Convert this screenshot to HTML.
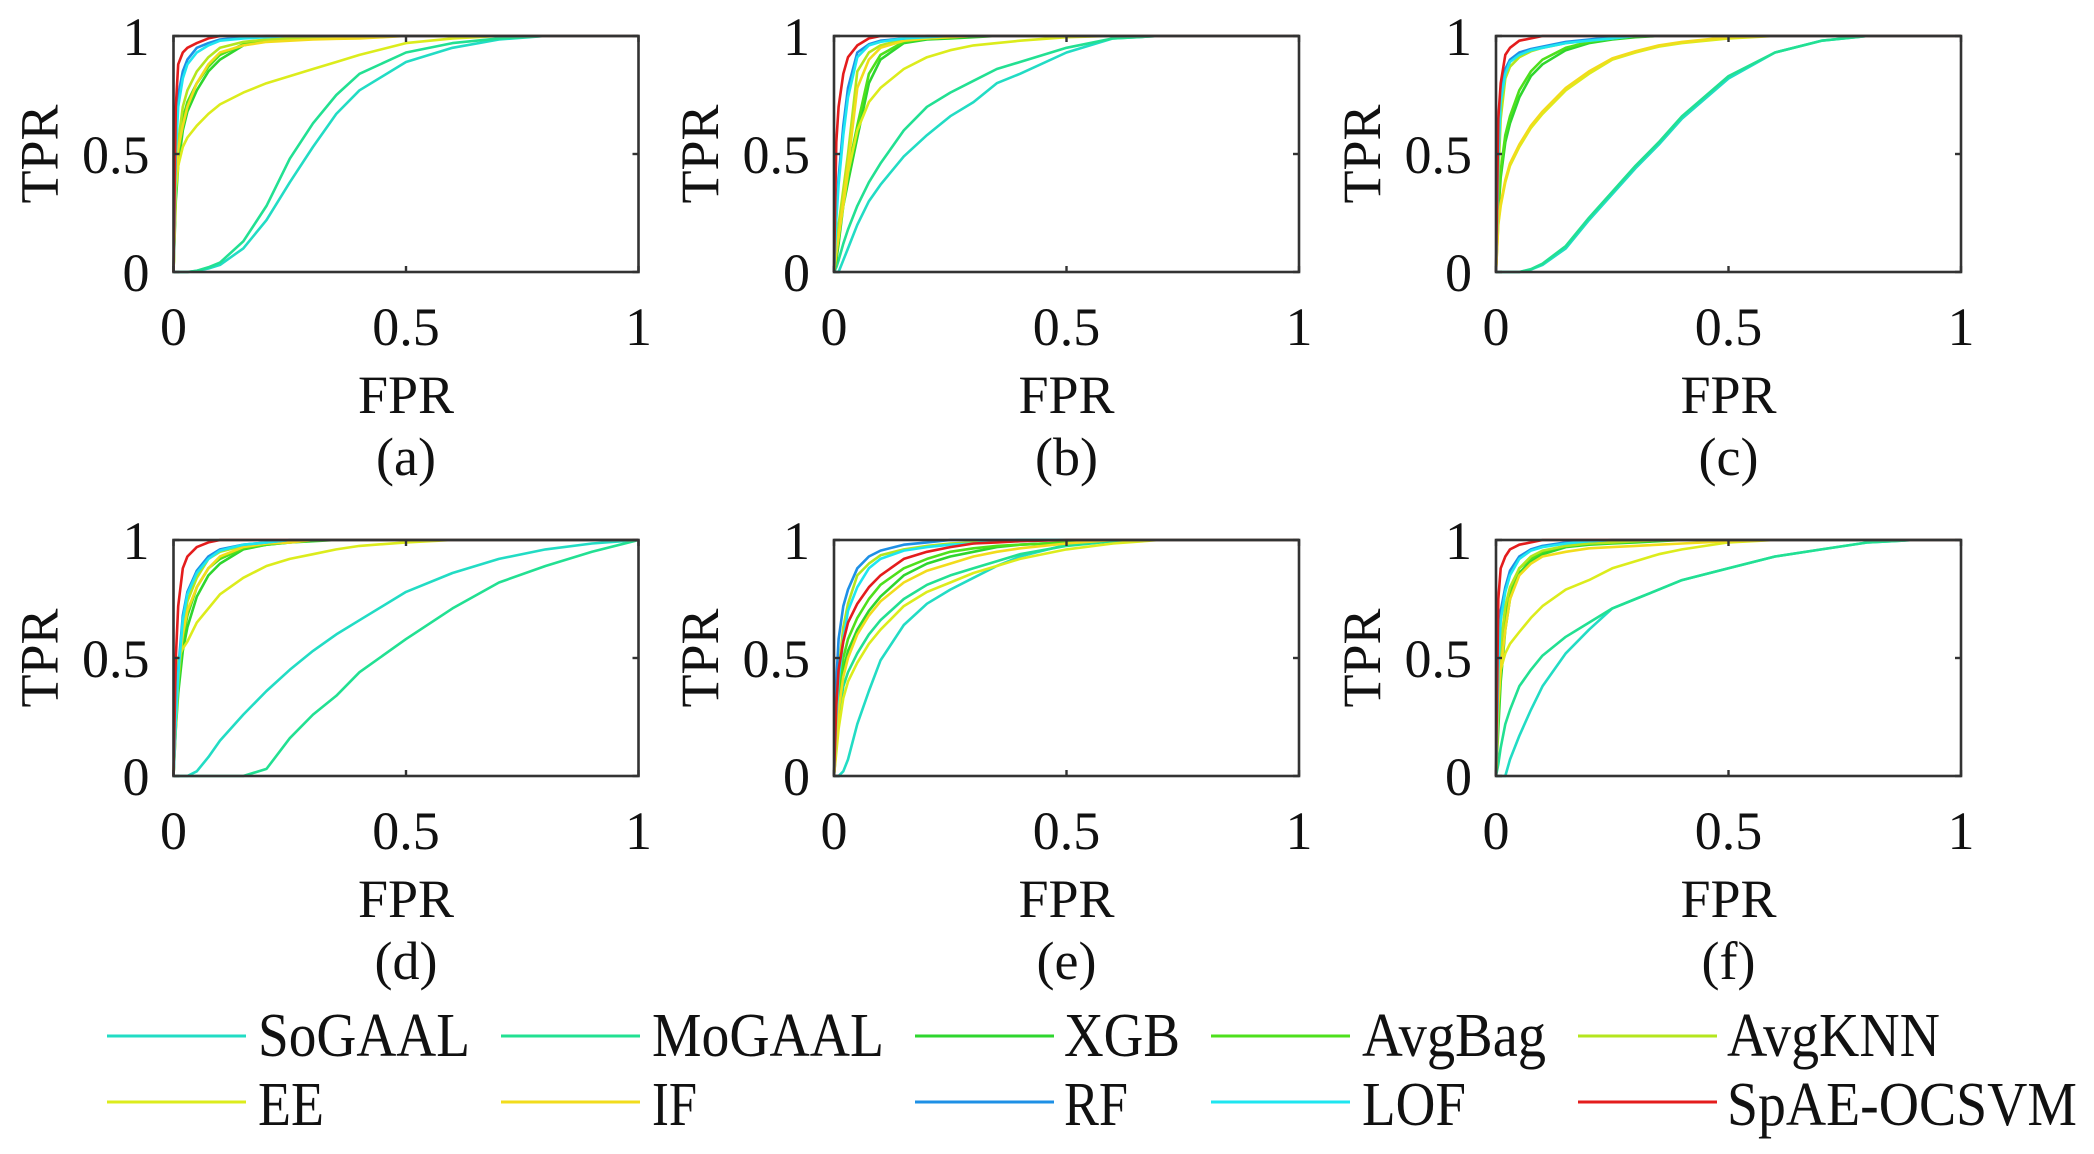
<!DOCTYPE html>
<html>
<head>
<meta charset="utf-8">
<style>
  html,body{margin:0;padding:0;background:#fff;}
  svg{display:block;}
  text{font-family:"Liberation Serif","DejaVu Serif",serif;fill:#111;}
</style>
</head>
<body>
<svg id="chart" width="2094" height="1154" viewBox="0 0 2094 1154" xmlns="http://www.w3.org/2000/svg">
  <rect x="0" y="0" width="2094" height="1154" fill="#fff"/>
  <g id="panels"></g>
  <g id="legend"></g>
</svg>
<script>
const seriesNames = ["SoGAAL","MoGAAL","XGB","AvgBag","AvgKNN","EE","IF","RF","LOF","SpAE-OCSVM"];
const seriesColors = ["#22dcc4","#22e092","#2ed62e","#4ee01c","#b4e61e","#dcec1c","#f2dc1c","#1e90e6","#1ee6f0","#e41c1c"];
const fprGrid = [0,0.005,0.01,0.02,0.03,0.05,0.075,0.1,0.15,0.2,0.25,0.3,0.35,0.4,0.5,0.6,0.7,0.8,0.9,1];
const axisTicks = [0,0.5,1];
const axisTickLabels = ["0","0.5","1"];
const panelLabels = ["(a)","(b)","(c)","(d)","(e)","(f)"];

const tprA = [
 [0,0,0,0,0,.005,.015,.03,.1,.22,.38,.53,.67,.77,.89,.95,.985,1,1,1],
 [0,0,0,0,0,.005,.02,.04,.13,.28,.48,.63,.75,.84,.93,.97,.99,1,1,1],
 [0,.3,.45,.6,.68,.77,.85,.9,.96,.98,.99,.995,1,1,1,1,1,1,1,1],
 [0,.35,.5,.65,.72,.8,.87,.92,.965,.98,.985,.99,.995,1,1,1,1,1,1,1],
 [0,.4,.55,.7,.77,.85,.91,.95,.975,.985,.99,.993,.997,1,1,1,1,1,1,1],
 [0,.35,.45,.53,.57,.62,.67,.71,.76,.8,.83,.86,.89,.92,.97,.99,1,1,1,1],
 [0,.4,.52,.62,.7,.8,.88,.93,.96,.975,.98,.985,.988,.99,1,1,1,1,1,1],
 [0,.55,.75,.85,.9,.95,.97,.985,.995,1,1,1,1,1,1,1,1,1,1,1],
 [0,.5,.7,.82,.88,.93,.96,.98,.99,.995,1,1,1,1,1,1,1,1,1,1],
 [0,.7,.88,.93,.95,.97,.99,1,1,1,1,1,1,1,1,1,1,1,1,1]
];
const tprB = [
 [0,0,0,.05,.1,.2,.3,.37,.49,.58,.66,.72,.8,.84,.93,.99,1,1,1,1],
 [0,.02,.05,.12,.18,.28,.38,.46,.6,.7,.76,.81,.86,.89,.95,.99,1,1,1,1],
 [0,.05,.12,.28,.38,.57,.8,.9,.97,.985,.99,.995,1,1,1,1,1,1,1,1],
 [0,.1,.18,.33,.43,.62,.84,.92,.975,.99,.995,1,1,1,1,1,1,1,1,1],
 [0,.1,.2,.35,.5,.85,.93,.96,.985,.99,.995,1,1,1,1,1,1,1,1,1],
 [0,.08,.15,.28,.42,.6,.72,.78,.86,.91,.94,.96,.97,.98,.995,1,1,1,1,1],
 [0,.08,.15,.3,.45,.78,.9,.95,.98,.99,.995,1,1,1,1,1,1,1,1,1],
 [0,.25,.4,.62,.78,.93,.965,.98,.99,1,1,1,1,1,1,1,1,1,1,1],
 [0,.22,.37,.58,.74,.91,.96,.975,.99,.995,1,1,1,1,1,1,1,1,1,1],
 [0,.55,.7,.84,.91,.96,.99,1,1,1,1,1,1,1,1,1,1,1,1,1]
];
const tprC = [
 [0,0,0,0,0,0,.01,.03,.1,.22,.33,.44,.54,.65,.82,.93,.98,1,1,1],
 [0,0,0,0,0,0,.012,.035,.11,.23,.34,.45,.55,.66,.83,.93,.98,1,1,1],
 [0,.25,.4,.55,.63,.74,.83,.88,.94,.97,.985,.995,1,1,1,1,1,1,1,1],
 [0,.28,.43,.58,.66,.77,.85,.9,.95,.975,.99,1,1,1,1,1,1,1,1,1],
 [0,.4,.65,.82,.87,.91,.935,.95,.97,.98,.99,1,1,1,1,1,1,1,1,1],
 [0,.2,.28,.38,.45,.53,.61,.67,.77,.84,.9,.93,.955,.97,.99,1,1,1,1,1],
 [0,.21,.29,.39,.46,.54,.62,.68,.78,.85,.905,.935,.96,.975,.995,1,1,1,1,1],
 [0,.5,.75,.86,.9,.93,.945,.955,.975,.985,.995,1,1,1,1,1,1,1,1,1],
 [0,.48,.72,.84,.89,.92,.94,.95,.97,.98,.99,1,1,1,1,1,1,1,1,1],
 [0,.65,.8,.92,.95,.98,.99,1,1,1,1,1,1,1,1,1,1,1,1,1]
];
const tprD = [
 [0,0,0,0,0,.02,.08,.15,.26,.36,.45,.53,.6,.66,.78,.86,.92,.96,.985,1],
 [0,0,0,0,0,0,0,0,0,.03,.16,.26,.34,.44,.58,.71,.82,.89,.95,1],
 [0,.2,.35,.53,.63,.76,.85,.9,.96,.98,.99,.995,1,1,1,1,1,1,1,1],
 [0,.25,.4,.58,.68,.8,.88,.92,.965,.98,.99,1,1,1,1,1,1,1,1,1],
 [0,.2,.4,.62,.74,.84,.92,.95,.975,.985,.99,1,1,1,1,1,1,1,1,1],
 [0,.45,.5,.54,.57,.65,.71,.77,.84,.89,.92,.94,.96,.975,.99,1,1,1,1,1],
 [0,.3,.45,.6,.7,.8,.88,.93,.97,.985,.99,1,1,1,1,1,1,1,1,1],
 [0,.25,.45,.68,.78,.87,.93,.96,.98,.99,1,1,1,1,1,1,1,1,1,1],
 [0,.23,.43,.66,.77,.86,.92,.955,.98,.99,1,1,1,1,1,1,1,1,1,1],
 [0,.5,.72,.88,.93,.97,.99,1,1,1,1,1,1,1,1,1,1,1,1,1]
];
const tprE = [
 [0,0,0,.02,.07,.22,.36,.49,.64,.73,.79,.84,.89,.93,.98,1,1,1,1,1],
 [0,.12,.25,.38,.44,.52,.6,.66,.75,.81,.85,.88,.91,.94,.975,.995,1,1,1,1],
 [0,.15,.3,.45,.53,.62,.7,.76,.85,.9,.93,.95,.97,.98,.99,1,1,1,1,1],
 [0,.2,.35,.5,.58,.67,.75,.81,.88,.92,.95,.965,.975,.98,.99,1,1,1,1,1],
 [0,.3,.45,.63,.73,.85,.9,.935,.96,.975,.985,.99,.995,1,1,1,1,1,1,1],
 [0,.1,.2,.33,.4,.48,.56,.62,.72,.78,.82,.86,.89,.92,.96,.985,1,1,1,1],
 [0,.15,.28,.42,.5,.6,.68,.74,.82,.87,.9,.93,.95,.965,.985,1,1,1,1,1],
 [0,.4,.58,.72,.79,.88,.93,.955,.98,.99,1,1,1,1,1,1,1,1,1,1],
 [0,.25,.4,.58,.7,.8,.88,.92,.955,.97,.98,.985,.995,1,1,1,1,1,1,1],
 [0,.3,.45,.57,.65,.73,.8,.85,.92,.95,.97,.985,.99,.995,1,1,1,1,1,1]
];
const tprF = [
 [0,0,0,0,.07,.17,.28,.38,.52,.62,.71,.75,.79,.83,.88,.93,.96,.99,1,1],
 [0,.05,.12,.22,.28,.38,.45,.51,.59,.65,.71,.75,.79,.83,.88,.93,.96,.99,1,1],
 [0,.2,.4,.62,.75,.86,.91,.94,.97,.98,.985,.99,.995,1,1,1,1,1,1,1],
 [0,.25,.45,.66,.78,.88,.92,.95,.975,.985,.99,.995,1,1,1,1,1,1,1,1],
 [0,.35,.55,.72,.8,.88,.93,.955,.975,.985,.99,.995,1,1,1,1,1,1,1,1],
 [0,.38,.45,.52,.56,.61,.67,.72,.79,.83,.88,.91,.94,.96,.99,1,1,1,1,1],
 [0,.3,.45,.62,.75,.85,.9,.93,.95,.965,.97,.975,.98,.985,.995,1,1,1,1,1],
 [0,.5,.7,.8,.87,.93,.96,.975,.99,.995,1,1,1,1,1,1,1,1,1,1],
 [0,.45,.66,.78,.85,.92,.955,.97,.985,.995,1,1,1,1,1,1,1,1,1,1],
 [0,.75,.88,.93,.96,.98,.99,1,1,1,1,1,1,1,1,1,1,1,1,1]
];
const panelData = [tprA,tprB,tprC,tprD,tprE,tprF];

const NS = "http://www.w3.org/2000/svg";
const colX = [173.5, 834, 1496];
const rowY = [36, 540];
const PW = 465, PH = 236;

function mk(tag, attrs, parent){
  const e = document.createElementNS(NS, tag);
  for (const k in attrs) e.setAttribute(k, attrs[k]);
  parent.appendChild(e);
  return e;
}

const panelsG = document.getElementById('panels');
panelData.forEach((data, p) => {
  const x0 = colX[p % 3], y0 = rowY[Math.floor(p / 3)];
  const sx = v => x0 + v * PW;
  const sy = v => y0 + PH - v * PH;
  const g = mk('g', {}, panelsG);
  
  

  // series lines
  data.forEach((vals, s) => {
    const pts = vals.map((v, i) => sx(fprGrid[i]).toFixed(1) + ',' + sy(v).toFixed(1)).join(' ');
    const pl = mk('polyline', {points: pts, fill: 'none', stroke: seriesColors[s], 'stroke-width': 2.6, 'stroke-linejoin': 'round'}, g);
    
    
  });

  // axes box
  const box = mk('rect', {x: x0, y: y0, width: PW, height: PH, fill: 'none', stroke: '#333', 'stroke-width': 2.6}, g);
  
  

  // ticks
  axisTicks.forEach((t, i) => {
    mk('line', {x1: sx(t), y1: y0 + PH, x2: sx(t), y2: y0 + PH - 6, stroke: '#333', 'stroke-width': 2.4}, g);
    mk('line', {x1: sx(t), y1: y0, x2: sx(t), y2: y0 + 6, stroke: '#333', 'stroke-width': 2.4}, g);
    mk('line', {x1: x0, y1: sy(t), x2: x0 + 6, y2: sy(t), stroke: '#333', 'stroke-width': 2.4}, g);
    mk('line', {x1: x0 + PW, y1: sy(t), x2: x0 + PW - 6, y2: sy(t), stroke: '#333', 'stroke-width': 2.4}, g);
    const xl = mk('text', {x: sx(t), y: y0 + PH + 73, 'text-anchor': 'middle', 'font-size': 54}, g);
    xl.textContent = axisTickLabels[i];
    
    
    const yl = mk('text', {x: x0 - 24, y: sy(t) + 19, 'text-anchor': 'end', 'font-size': 54}, g);
    yl.textContent = axisTickLabels[i];
    
    
  });

  const xt = mk('text', {x: x0 + PW / 2, y: y0 + PH + 141, 'text-anchor': 'middle', 'font-size': 54}, g);
  xt.textContent = 'FPR';
  
  

  const yt = mk('text', {transform: 'translate(' + (x0 - 116) + ',' + (y0 + PH / 2) + ') rotate(-90)', 'text-anchor': 'middle', 'font-size': 54}, g);
  yt.textContent = 'TPR';
  
  

  const pl = mk('text', {x: x0 + PW / 2, y: y0 + PH + 203, 'text-anchor': 'middle', 'font-size': 54}, g);
  pl.textContent = panelLabels[p];
  
  
});

// legend
const legendLineX = [107, 501, 915, 1211, 1578];
const legendTextX = [258, 652, 1064, 1362, 1727];
const legendTextW = [212, 232, 116, 184, 213, 66, 45, 64, 104, 350];
const legendG = document.getElementById('legend');
seriesNames.forEach((name, s) => {
  const c = s % 5, r = Math.floor(s / 5);
  const ly = r === 0 ? 1036 : 1102;
  const base = r === 0 ? 1056 : 1125;
  const eg = mk('g', {}, legendG);
  
  
  mk('line', {x1: legendLineX[c], y1: ly, x2: legendLineX[c] + 139, y2: ly, stroke: seriesColors[s], 'stroke-width': 3}, eg);
  const t = mk('text', {x: legendTextX[c], y: base, 'font-size': 62, textLength: legendTextW[s], lengthAdjust: 'spacingAndGlyphs'}, eg);
  t.textContent = name;
});
</script>
</body>
</html>
